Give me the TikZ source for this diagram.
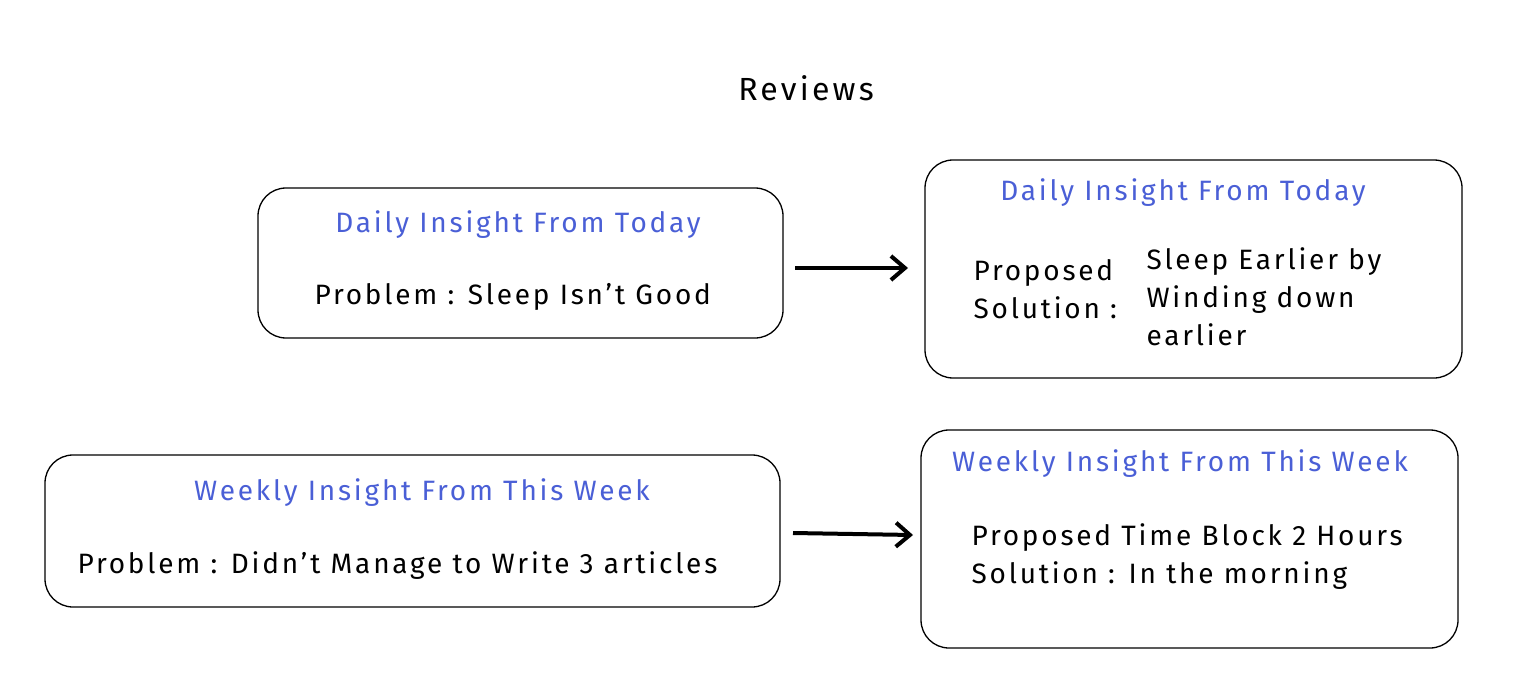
\documentclass[tikz,border=0pt]{standalone}
\usepackage{fontspec}
\setmainfont{Fira Sans}[LetterSpace=10]
\usetikzlibrary{arrows.meta}
\definecolor{ib}{HTML}{4A5FD6}
\tikzset{box/.style={draw,line width=1.3pt,rounded corners=28pt},
 ttl/.style={text=ib,font=\fontsize{28}{30}\selectfont,anchor=center},
 txt/.style={font=\fontsize{28}{38}\selectfont,anchor=west,align=left},
 arr/.style={line width=4pt,-{Straight Barb[length=14pt,width=24pt]}}}
\begin{document}
\begin{tikzpicture}[x=1pt,y=-1pt]
\useasboundingbox (0,0) rectangle (1517,687);
\node[font=\fontsize{32}{34}\selectfont] (title) at (806,88) {Reviews};
\draw[box] (258,188) rectangle (783,338);
\node[ttl] (t1) at (518,225) {Daily Insight From Today};
\node[txt] (p1) at (311,297) {Problem : Sleep Isn't Good};
\draw[box] (925,160) rectangle (1462,378);
\node[ttl] (t2) at (1183,193) {Daily Insight From Today};
\node[txt] (l2) at (970,289) {Proposed\\Solution :};
\node[txt] (r2) at (1143,297) {Sleep Earlier by\\Winding down\\earlier};
\draw[box] (45,455) rectangle (780,607);
\node[ttl] (t3) at (422,493) {Weekly Insight From This Week};
\node[txt] (p3) at (74,566) {Problem : Didn't Manage to Write 3 articles};
\draw[box] (921,430) rectangle (1458,648);
\node[ttl] (t4) at (1180,464) {Weekly Insight From This Week};
\node[txt] (l4) at (968,557) {Proposed Time Block 2 Hours\\Solution : In the morning};
\coordinate (a1s) at (795,268); \coordinate (a1e) at (908,268);
\coordinate (a2s) at (793,533); \coordinate (a2e) at (913,535);
\draw[arr] (a1s) -- (a1e);
\draw[arr] (a2s) -- (a2e);
\end{tikzpicture}
\end{document}
